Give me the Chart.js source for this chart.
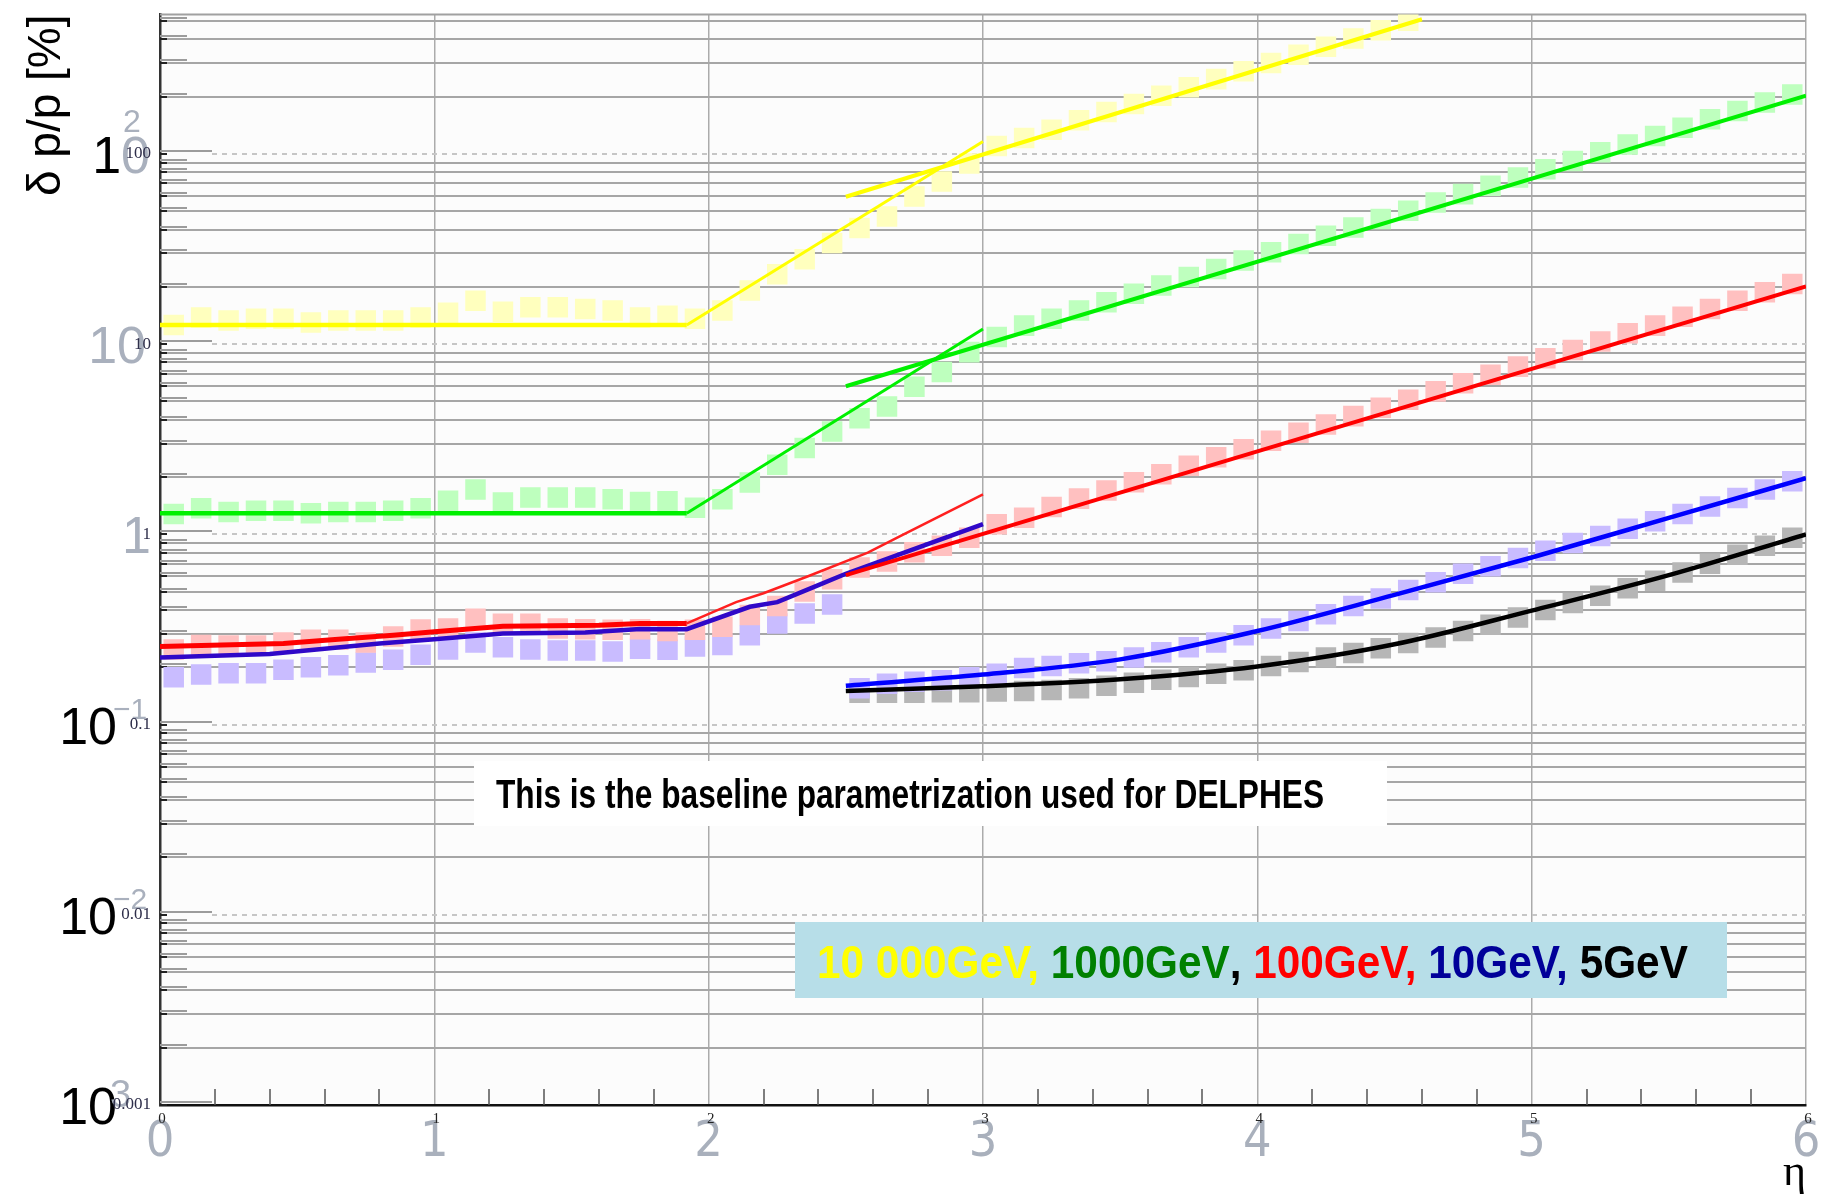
<!DOCTYPE html>
<html>
<head>
<meta charset="utf-8">
<title>Momentum resolution vs eta</title>
<script src="https://cdn.jsdelivr.net/npm/chart.js@4.4.1/dist/chart.umd.min.js"></script>
<style>
    html, body { margin: 0; padding: 0; background: #ffffff; }
    #wrap { width: 1837px; height: 1200px; }
</style>
</head>
<body>
<div id="wrap"><canvas id="chart" width="1837" height="1200"></canvas></div>
<script>
// ---- data (dp/p in %, log scale) ----

// histogram bin centres in eta
var etaBins = [0.05, 0.15, 0.25, 0.35, 0.45, 0.55, 0.65, 0.75, 0.85, 0.95,
               1.05, 1.15, 1.25, 1.35, 1.45, 1.55, 1.65, 1.75, 1.85, 1.95,
               2.05, 2.15, 2.25, 2.35, 2.45, 2.55, 2.65, 2.75, 2.85, 2.95,
               3.05, 3.15, 3.25, 3.35, 3.45, 3.55, 3.65, 3.75, 3.85, 3.95,
               4.05, 4.15, 4.25, 4.35, 4.45, 4.55, 4.65, 4.75, 4.85, 4.95,
               5.05, 5.15, 5.25, 5.35, 5.45, 5.55, 5.65, 5.75, 5.85, 5.95];

// square markers (simulation points)
var yellowMarks = [12.6, 13.8, 13.3, 13.6, 13.6, 13.0, 13.3, 13.3, 13.3, 13.8,
                   14.6, 16.9, 14.8, 15.6, 15.6, 15.3, 15.0, 13.8, 14.1, 13.6,
                   15.0, 19.1, 23.3, 27.9, 34.0, 40.8, 46.9, 59.7, 71.5, 89.0,
                   110, 121, 134, 150, 166, 183, 202, 224, 247, 272,
                   300, 332, 366, 404, 446, 500, null, null, null, null,
                   null, null, null, null, null, null, null, null, null, null];
var greenMarks = [1.28, 1.37, 1.31, 1.33, 1.33, 1.29, 1.31, 1.31, 1.33, 1.37,
                  1.50, 1.72, 1.47, 1.56, 1.56, 1.56, 1.53, 1.48, 1.49, 1.38,
                  1.53, 1.87, 2.32, 2.84, 3.47, 4.07, 4.69, 5.96, 7.13, 9.07,
                  10.9, 12.5, 13.6, 15.0, 16.6, 18.4, 20.3, 22.5, 24.8, 27.5,
                  30.4, 33.6, 37.1, 41.0, 45.4, 50.2, 55.5, 61.4, 67.9, 75.1,
                  83.0, 91.8, 102, 112, 124, 137, 152, 168, 186, 205];
var redMarks = [0.248, 0.262, 0.260, 0.260, 0.270, 0.279, 0.279, 0.270, 0.290, 0.316,
                0.320, 0.360, 0.339, 0.339, 0.320, 0.317, 0.315, 0.317, 0.310, 0.315,
                0.327, 0.376, 0.420, 0.500, 0.580, 0.670, 0.720, 0.805, 0.870, 0.960,
                1.13, 1.22, 1.39, 1.54, 1.70, 1.88, 2.07, 2.29, 2.54, 2.80,
                3.10, 3.42, 3.78, 4.18, 4.62, 5.10, 5.64, 6.23, 6.89, 7.61,
                8.41, 9.30, 10.3, 11.4, 12.5, 13.9, 15.3, 16.9, 18.7, 20.7];
var lavenderMarks = [0.177, 0.183, 0.186, 0.186, 0.194, 0.200, 0.205, 0.212, 0.219, 0.233,
                     0.248, 0.270, 0.255, 0.248, 0.245, 0.245, 0.242, 0.250, 0.247, 0.257,
                     0.262, 0.295, 0.340, 0.383, 0.428, 0.155, 0.164, 0.168, 0.171, 0.177,
                     0.185, 0.198, 0.203, 0.210, 0.215, 0.225, 0.240, 0.255, 0.270, 0.295,
                     0.320, 0.350, 0.380, 0.420, 0.460, 0.510, 0.560, 0.620, 0.680, 0.750,
                     0.820, 0.900, 0.980, 1.07, 1.17, 1.28, 1.40, 1.55, 1.72, 1.90];
var greyMarks = [null, null, null, null, null, null, null, null, null, null,
                 null, null, null, null, null, null, null, null, null, null,
                 null, null, null, null, null, 0.147, 0.147, 0.147, 0.148, 0.148,
                 0.149, 0.150, 0.152, 0.155, 0.160, 0.166, 0.172, 0.178, 0.185, 0.193,
                 0.203, 0.213, 0.225, 0.238, 0.252, 0.268, 0.287, 0.310, 0.335, 0.365,
                 0.400, 0.435, 0.475, 0.520, 0.570, 0.630, 0.700, 0.780, 0.870, 0.960];

// parametrization lines
var yellowFlatEta = [0, 1.92];       var yellowFlatVal = [12.6, 12.6];
var yellowRiseEta = [1.92, 3.0];     var yellowRiseVal = [12.6, 116];
var yellowHighEta = [2.5, 4.6];      var yellowHighVal = [59.5, 510];
var greenFlatEta = [0, 1.92];        var greenFlatVal = [1.29, 1.29];
var greenRiseEta = [1.92, 3.0];      var greenRiseVal = [1.29, 12.0];
var greenHighEta = [2.5, 6.0];       var greenHighVal = [6.0, 202];
var redLowEta = [0, 0.45, 0.65, 0.85, 1.0, 1.25, 1.6, 1.75, 1.92];
var redLowVal = [0.257, 0.267, 0.281, 0.295, 0.307, 0.329, 0.333, 0.34, 0.34];
var redMidEta = [1.92, 2.1, 2.2, 2.36, 2.58, 2.7, 3.0];
var redMidVal = [0.34, 0.44, 0.49, 0.60, 0.80, 0.98, 1.62];
var redHighEta = [2.5, 6.0];         var redHighVal = [0.61, 20.1];
var blueLowEta = [0, 0.4, 0.8, 1.0, 1.25, 1.55, 1.75, 1.92, 2.15, 2.25, 2.4, 2.5, 2.68, 3.0];
var blueLowVal = [0.225, 0.235, 0.267, 0.281, 0.301, 0.305, 0.318, 0.317, 0.416, 0.44, 0.54, 0.62, 0.77, 1.13];
var curveEta = [2.5, 3.0, 3.5, 4.0, 4.5, 5.0, 5.5, 6.0];
var blueHighVal = [0.160, 0.183, 0.220, 0.310, 0.480, 0.755, 1.22, 1.97];
var blackVal = [0.150, 0.159, 0.173, 0.202, 0.264, 0.397, 0.61, 1.0];

// axes (decade labels listed from 0.001 up to 100)
var xTickLabels = ['0', '1', '2', '3', '4', '5', '6'];
var yDecades = [0.001, 0.01, 0.1, 1, 10, 100];
var ySteps = [1, 2, 3, 4, 5, 6, 7, 8, 9];
var yDecadeBig = ['10', '10', '10', '1', '10', '10'];
var yDecadeExp = ['3', '\u22122', '\u22121', '', '', '2'];
var yDecadeSmall = ['0.001', '0.01', '0.1', '1', '10', '100'];
var yMax = 540;

var noteText = 'This is the baseline parametrization used for DELPHES';
var legendTexts = ['10 000GeV,', ' 1000GeV', ',', ' 100GeV,', ' 10GeV,', ' 5GeV'];

// ---- helpers ----
function pts(xs, ys) {
    var out = [];
    for (var i = 0; i < xs.length; i++) {
        if (ys[i] !== null) out.push({ x: xs[i], y: ys[i] });
    }
    return out;
}

function isDecade(v) {
    var l = Math.log10(v);
    return Math.abs(l - Math.round(l)) < 1e-6;
}

var yGrid = [];
yDecades.forEach(function (d) {
    ySteps.forEach(function (s) {
        var v = +(d * s).toPrecision(6);
        if (v <= yMax) yGrid.push(v);
    });
});

function markSet(data, color) {
    return {
        data: pts(etaBins, data),
        showLine: false,
        pointStyle: 'rect',
        pointRadius: 14.5,
        pointBorderWidth: 0,
        pointBackgroundColor: color,
        pointBorderColor: color,
        order: 2
    };
}

function lineSet(xs, ys, color, width, smooth) {
    return {
        data: pts(xs, ys),
        showLine: true,
        borderColor: color,
        borderWidth: width,
        pointRadius: 0,
        tension: 0,
        cubicInterpolationMode: smooth ? 'monotone' : 'default',
        order: 0
    };
}

// draw text squeezed to a given width (the original uses a narrow bold face)
function drawFitted(ctx, parts, x, baseline, width, font) {
    ctx.save();
    ctx.font = font;
    ctx.textAlign = 'left';
    ctx.textBaseline = 'alphabetic';
    var full = parts.map(function (p) { return p.text; }).join('');
    var sx = width / ctx.measureText(full).width;
    ctx.translate(x, baseline);
    ctx.scale(sx, 1);
    var cx = 0;
    parts.forEach(function (p) {
        ctx.fillStyle = p.color;
        ctx.fillText(p.text, cx, 0);
        cx += ctx.measureText(p.text).width;
    });
    ctx.restore();
}

// ---- decorations: ROOT-like ticks, labels and the two text boxes ----
var labelGrey = '#a9b0bd';
var yLabelLook = [
    { right: 117, colors: ['#000', '#000'], expX: 110, expDy: 2, expSize: 38 },
    { right: 117, colors: ['#000', '#000'], expX: 113, expDy: -6, expSize: 30 },
    { right: 117, colors: ['#000', '#000'], expX: 113, expDy: -6, expSize: 30 },
    { right: 151, colors: [labelGrey, labelGrey], expX: 0, expDy: 0, expSize: 30 },
    { right: 146, colors: [labelGrey, labelGrey], expX: 0, expDy: 0, expSize: 30 },
    { right: 150, colors: ['#000', labelGrey], expX: 123, expDy: -22, expSize: 32 }
];
var legendColors = ['#ffff00', '#008000', '#000000', '#ff0000', '#000099', '#000000'];

var decoPlugin = {
    id: 'deco',
    beforeDraw: function (chart) {
        var ctx = chart.ctx, a = chart.chartArea;
        ctx.save();
        ctx.fillStyle = '#ffffff';
        ctx.fillRect(0, 0, chart.width, chart.height);
        ctx.fillStyle = '#fcfcfc';
        ctx.fillRect(a.left, a.top, a.right - a.left, a.bottom - a.top);
        ctx.restore();
    },
    beforeDatasetsDraw: function (chart) {
        var ctx = chart.ctx, a = chart.chartArea;
        var ys = chart.scales.y, xs = chart.scales.x;
        ctx.save();
        // decade lines are dotted and lighter (not the one on the x axis)
        ctx.lineWidth = 2;
        ctx.strokeStyle = '#c6c6c6';
        ctx.setLineDash([5, 5]);
        yDecades.slice(1).forEach(function (v) {
            var py = Math.round(ys.getPixelForValue(v));
            ctx.beginPath();
            ctx.moveTo(a.left + 52, py);
            ctx.lineTo(a.right, py);
            ctx.stroke();
        });
        ctx.setLineDash([]);
        // top frame
        ctx.strokeStyle = '#a0a0a0';
        ctx.beginPath();
        ctx.moveTo(a.left, a.top);
        ctx.lineTo(a.right, a.top);
        ctx.stroke();
        // inner y ticks
        yGrid.forEach(function (v) {
            var py = Math.round(ys.getPixelForValue(v));
            ctx.strokeStyle = '#9c9c9c';
            ctx.lineWidth = 2;
            ctx.beginPath();
            ctx.moveTo(a.left, py - 3);
            ctx.lineTo(a.left + (isDecade(v) ? 52 : 27), py - 3);
            ctx.stroke();
            ctx.strokeStyle = '#222';
            ctx.beginPath();
            ctx.moveTo(a.left, py);
            ctx.lineTo(a.left + 7, py);
            ctx.stroke();
        });
        // x minor ticks every 0.2
        ctx.strokeStyle = '#555';
        ctx.lineWidth = 1.5;
        for (var k = 1; k < 30; k++) {
            if (k % 5 === 0) continue;
            var px = Math.round(xs.getPixelForValue(k * 0.2));
            ctx.beginPath();
            ctx.moveTo(px, a.bottom);
            ctx.lineTo(px, a.bottom - 16);
            ctx.stroke();
        }
        ctx.restore();
    },
    afterDraw: function (chart) {
        var ctx = chart.ctx, a = chart.chartArea;
        var ys = chart.scales.y, xs = chart.scales.x;
        ctx.save();
        // y labels: big "10" with exponent, small numeric value on top
        yDecades.forEach(function (v, i) {
            var py = ys.getPixelForValue(v);
            var look = yLabelLook[i];
            var base = yDecadeBig[i];
            ctx.font = '52px "Liberation Sans", Arial, sans-serif';
            ctx.textAlign = 'left';
            ctx.textBaseline = 'alphabetic';
            var x0 = look.right - ctx.measureText(base).width;
            var first = base.charAt(0);
            ctx.fillStyle = look.colors[0];
            ctx.fillText(first, x0, py + 19);
            ctx.fillStyle = look.colors[1];
            ctx.fillText(base.slice(1), x0 + ctx.measureText(first).width, py + 19);
            if (yDecadeExp[i]) {
                ctx.font = look.expSize + 'px "Liberation Sans", Arial, sans-serif';
                ctx.fillStyle = labelGrey;
                ctx.fillText(yDecadeExp[i], look.expX, py + look.expDy);
            }
            ctx.font = '17px "Liberation Serif", serif';
            ctx.textAlign = 'right';
            ctx.textBaseline = 'middle';
            ctx.fillStyle = '#2e2e4a';
            ctx.fillText(yDecadeSmall[i], 151, py);
        });
        // small black x labels under the axis
        ctx.font = '15px "Liberation Serif", serif';
        ctx.textAlign = 'center';
        ctx.textBaseline = 'middle';
        ctx.fillStyle = '#222';
        xTickLabels.forEach(function (t, i) {
            ctx.fillText(t, xs.getPixelForValue(i) + 2, a.bottom + 14);
        });
        // note box
        ctx.fillStyle = '#ffffff';
        ctx.fillRect(474, 761, 913, 65);
        drawFitted(ctx, [{ text: noteText, color: '#000000' }], 496, 808, 828,
            'bold 40px "Liberation Sans", Arial, sans-serif');
        // energy legend box
        ctx.fillStyle = '#b7dee8';
        ctx.fillRect(795, 922, 932, 76);
        drawFitted(ctx, legendTexts.map(function (t, i) { return { text: t, color: legendColors[i] }; }),
            817, 978, 867, 'bold 47px "Liberation Sans", Arial, sans-serif');
        ctx.restore();
    }
};

var datasets = [
    lineSet(yellowFlatEta, yellowFlatVal, '#ffff00', 4.5, false),
    lineSet(yellowRiseEta, yellowRiseVal, '#ffff00', 3, false),
    lineSet(yellowHighEta, yellowHighVal, '#ffff00', 4, false),
    lineSet(greenFlatEta, greenFlatVal, '#00f000', 4.5, false),
    lineSet(greenRiseEta, greenRiseVal, '#00f000', 3, false),
    lineSet(greenHighEta, greenHighVal, '#00f000', 4, false),
    lineSet(redLowEta, redLowVal, '#ff0000', 5, false),
    lineSet(redMidEta, redMidVal, '#ff2020', 2.5, false),
    lineSet(redHighEta, redHighVal, '#ff0000', 4, false),
    lineSet(blueLowEta, blueLowVal, '#3008c8', 4.5, false),
    lineSet(curveEta, blueHighVal, '#0000ff', 4.5, true),
    lineSet(curveEta, blackVal, '#000000', 4.5, true),
    markSet(yellowMarks, '#ffffbe'),
    markSet(greenMarks, '#beffbe'),
    markSet(redMarks, '#ffc0c0'),
    markSet(lavenderMarks, '#c9bcff'),
    markSet(greyMarks, '#b6b6b6')
];

new Chart(document.getElementById('chart').getContext('2d'), {
    type: 'scatter',
    data: { datasets: datasets },
    options: {
        responsive: false,
        animation: false,
        events: [],
        devicePixelRatio: 1,
        layout: { padding: { top: 7, right: 31, left: 0, bottom: 0 } },
        plugins: {
            legend: { display: false },
            tooltip: { enabled: false }
        },
        scales: {
            x: {
                type: 'linear',
                min: 0,
                max: 6,
                afterFit: function (s) { s.height = 95; },
                ticks: {
                    stepSize: 1,
                    maxRotation: 0,
                    padding: 8,
                    color: '#a9b0bc',
                    font: { family: '"Liberation Sans Narrow", "DejaVu Sans Condensed", "Liberation Sans", sans-serif', size: 50 },
                    callback: function (v) { return xTickLabels[Math.round(v)]; }
                },
                grid: { color: '#ababab', lineWidth: 1.5, drawTicks: false },
                border: { display: true, color: '#111111', width: 2.5 },
                title: {
                    display: true,
                    text: '\u03b7',
                    align: 'end',
                    color: '#000000',
                    padding: { top: 0, bottom: 0 },
                    font: { family: '"Liberation Serif", serif', size: 44 }
                }
            },
            y: {
                type: 'logarithmic',
                min: 0.001,
                max: yMax,
                afterFit: function (s) { s.width = 160; },
                afterBuildTicks: function (s) {
                    s.ticks = yGrid.map(function (v) { return { value: v, major: isDecade(v) }; });
                },
                ticks: { display: false },
                grid: {
                    drawTicks: false,
                    lineWidth: 2,
                    color: function (c) {
                        return c.tick && isDecade(c.tick.value) ? 'rgba(0,0,0,0)' : '#a6a6a6';
                    }
                },
                border: { display: true, color: '#333333', width: 2.5 },
                title: {
                    display: true,
                    text: '\u03b4 p/p [%]',
                    align: 'end',
                    color: '#000000',
                    padding: { top: 20, bottom: 0 },
                    font: { family: '"Liberation Sans", Arial, sans-serif', size: 46 }
                }
            }
        }
    },
    plugins: [decoPlugin]
});
</script>
</body>
</html>
